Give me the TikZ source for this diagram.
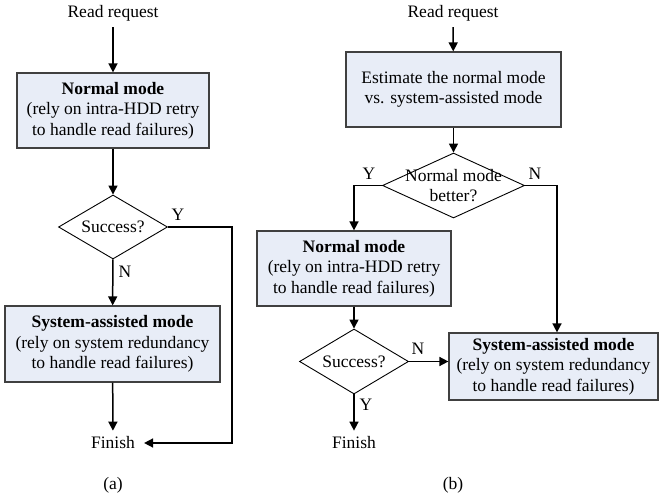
\documentclass[tikz,border=0pt]{standalone}
\usepackage{fontspec}
\setmainfont{Liberation Serif}
\usepackage{xcolor}
\usetikzlibrary{arrows.meta, shapes.geometric, positioning}

\definecolor{modefill}{RGB}{232,237,247}
\definecolor{modeline}{RGB}{64,64,64}

\begin{document}
\begin{tikzpicture}[x=1pt, y=-1pt,
    every node/.style={font=\fontsize{17.5}{20.5}\selectfont},
    mode/.style={draw=modeline, fill=modefill, line width=1.2pt, align=center, inner sep=0pt},
    test/.style={diamond, draw=black, line width=0.9pt, inner sep=0pt},
    term/.style={inner sep=6pt},
    flow/.style={line width=1.5pt, -{Triangle[length=9pt, width=9pt]}},
    wire/.style={line width=1.5pt}]
    \useasboundingbox (0, 0) rectangle (659, 494);

    % (a) plain flow
    \node[term] (reqa) at (113, 13) {Read request};
    \node[mode, minimum width=192, minimum height=75] (norma) at (113, 110.5)
        {\textbf{Normal mode}\\(rely on intra-HDD retry\\to handle read failures)};
    \node[test, minimum width=109, minimum height=64] (succa) at (113, 227) {};
    \node[] (succatxt) at (113, 227) {Success?};
    \node[mode, minimum width=215, minimum height=76] (sysa) at (112.5, 344)
        {\textbf{System-assisted mode}\\(rely on system redundancy\\to handle read failures)};
    \node[term] (fina) at (113, 443) {Finish};
    \coordinate (ya) at (232, 227);
    \node[] (ylaba) at (178, 215) {Y};
    \node[] (nlaba) at (125, 272) {N};
    \node[] (capa) at (113, 485) {(a)};
    \draw
    (reqa) edge[flow] (norma)
    (norma) edge[flow] (succa)
    (succa) edge[flow] (sysa)
    (sysa) edge[flow] (fina);
    \draw[flow] (succa.east) -- (ya) |- ([xshift=3pt]fina.east);

    % (b) estimate first
    \node[term] (reqb) at (453, 13) {Read request};
    \node[mode, minimum width=215, minimum height=75] (est) at (453.5, 89.5)
        {Estimate the normal mode\\vs. system-assisted mode};
    \node[test, minimum width=142, minimum height=65] (better) at (453.5, 185.5) {};
    \node[align=center] (bettertxt) at (453.5, 185.5) {Normal mode\\better?};
    \node[mode, minimum width=194, minimum height=75] (normb) at (354, 268.5)
        {\textbf{Normal mode}\\(rely on intra-HDD retry\\to handle read failures)};
    \node[test, minimum width=109, minimum height=65] (succb) at (354, 361.5) {};
    \node[] (succbtxt) at (354, 361.5) {Success?};
    \node[mode, minimum width=209, minimum height=67] (sysb) at (553.5, 366.5)
        {\textbf{System-assisted mode}\\(rely on system redundancy\\to handle read failures)};
    \node[term] (finb) at (354, 443) {Finish};
    \node[] (ylabb) at (369, 174) {Y};
    \node[] (nlabb) at (535, 174) {N};
    \node[] (nlabc) at (418, 349) {N};
    \node[] (ylabc) at (366, 405) {Y};
    \node[] (capb) at (453, 485) {(b)};
    \draw
    (reqb) edge[flow] (est)
    (est) edge[flow] (better)
    (normb) edge[flow] (succb)
    (succb) edge[flow] (finb)
    (succb.east) edge[flow] (succb.east -| sysb.west);
    \draw[flow] (better.west) -| (normb.north);
    \draw[flow] (better.east) -| ([xshift=3.5pt]sysb.north);
\end{tikzpicture}
\end{document}
